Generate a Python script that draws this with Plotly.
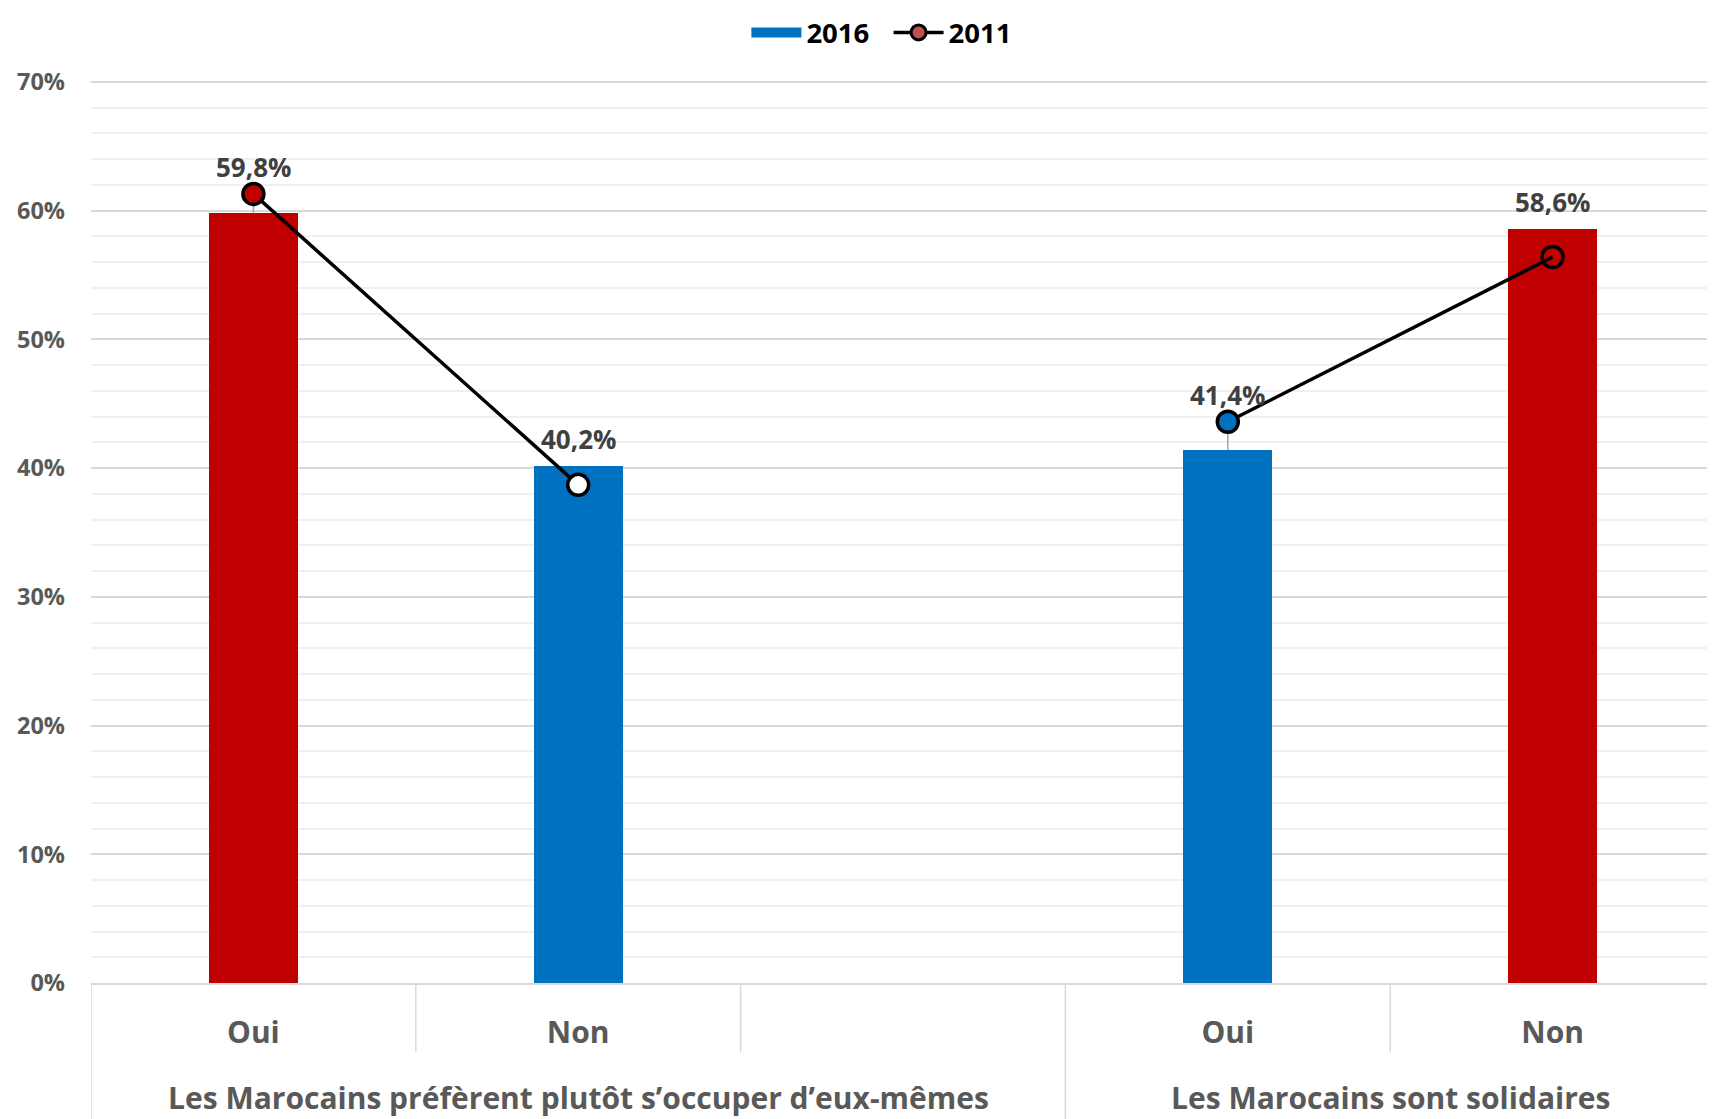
import plotly.graph_objects as go

# ---- data ----
categories = ["g1_oui", "g1_non", "g1_gap", "g2_oui", "g2_non"]
tick_labels = ["Oui", "Non", "", "Oui", "Non"]
groups = ["Les Marocains préfèrent plutôt s’occuper d’eux-mêmes", "Les Marocains sont solidaires"]
group_members = [[0, 1, 2], [3, 4]]
values_2016 = [59.8, 40.2, None, 41.4, 58.6]
values_2011 = [61.3, 38.7, None, 43.6, 56.4]
labels_2016 = ["59,8%", "40,2%", "", "41,4%", "58,6%"]
bar_colors = ["#C00000", "#0070C0", "#0070C0", "#0070C0", "#C00000"]
marker_fills = ["#C00000", "#FFFFFF", "#FFFFFF", "#0070C0", "rgba(0,0,0,0)"]

FONT = "Open Sans"
GRAY = "#595959"
LABEL = "#404040"

fig = go.Figure()

# bars 2016
fig.add_trace(go.Bar(
    x=categories, y=values_2016, marker=dict(color=bar_colors, line=dict(width=0)),
    width=0.273, showlegend=False, hoverinfo="skip"))

# leader lines (bar top -> label) where the 2011 point sits above the bar
for c, b, l in zip(categories, values_2016, values_2011):
    if b is not None and l is not None and l > b:
        fig.add_trace(go.Scatter(x=[c, c], y=[b, l], mode="lines",
                                 line=dict(color="#A6A6A6", width=1.5),
                                 showlegend=False, hoverinfo="skip"))

# line 2011
fig.add_trace(go.Scatter(
    x=categories, y=values_2011, mode="lines+markers", connectgaps=False,
    line=dict(color="black", width=3.5),
    marker=dict(size=21, color=marker_fills, line=dict(color="black", width=3.5)),
    showlegend=False, hoverinfo="skip"))

# legend entries (2016 shown as a wide filled swatch)
fig.add_trace(go.Scatter(x=[None], y=[None], name="2016\u00a0\u00a0", mode="lines",
                         line=dict(color="#0070C0", width=17)))
fig.add_trace(go.Scatter(x=[None], y=[None], name="2011", mode="lines+markers",
                         line=dict(color="black", width=3.5),
                         marker=dict(size=15, color="#C0504D", line=dict(color="black", width=3))))

# data labels
for c, b, l, t in zip(categories, values_2016, values_2011, labels_2016):
    if b is None:
        continue
    base = l if (l is not None and l > b) else b
    fig.add_annotation(x=c, y=base, text=t, showarrow=False, yanchor="middle", yshift=27,
                       font=dict(family=FONT, size=26, color=LABEL, weight="bold"))

# group labels + dividers
for g, members in zip(groups, group_members):
    cx = sum(members) / len(members)
    fig.add_annotation(x=cx, xref="x", y=-0.127, yref="paper", text=g, showarrow=False,
                       yanchor="middle", font=dict(family=FONT, size=30, color=GRAY, weight="bold"))
    left = members[0] - 0.5
    fig.add_shape(type="line", xref="x", yref="paper", x0=left, x1=left, y0=0, y1=-0.16,
                  line=dict(color="#D9D9D9", width=1.5))
    for m in members[1:]:
        fig.add_shape(type="line", xref="x", yref="paper", x0=m - 0.5, x1=m - 0.5, y0=0, y1=-0.077,
                      line=dict(color="#D9D9D9", width=1.5))

fig.update_layout(
    width=1707, height=1111,
    margin=dict(l=83, r=0, t=72, b=136, autoexpand=False),
    paper_bgcolor="white", plot_bgcolor="white",
    bargap=0, barmode="overlay",
    legend=dict(orientation="h", x=0.487, xanchor="center", yref="container", y=1.0, yanchor="top",
                font=dict(family=FONT, size=27.5, color="black", weight="bold"),
                itemwidth=50, traceorder="normal", borderwidth=0),
    xaxis=dict(type="category", categoryorder="array", categoryarray=categories,
               tickmode="array", tickvals=categories, ticktext=tick_labels,
               range=[-0.5, 4.5], showgrid=False, showline=True, linecolor="#D9D9D9", linewidth=2,
               ticks="", ticklabelstandoff=22, automargin=False,
               tickfont=dict(family=FONT, size=30, color=GRAY, weight="bold")),
    yaxis=dict(range=[0, 70.15], tick0=0, dtick=10, ticksuffix="%",
               showgrid=True, gridcolor="#D9D9D9", gridwidth=1.5,
               minor=dict(dtick=2, showgrid=True, gridcolor="#F0F0F0", gridwidth=1.5),
               zeroline=False, showline=False, ticks="", ticklabelstandoff=25, automargin=False,
               tickfont=dict(family=FONT, size=23.5, color=GRAY, weight="bold")),
    font=dict(family=FONT),
)

fig.write_html("out.html")
